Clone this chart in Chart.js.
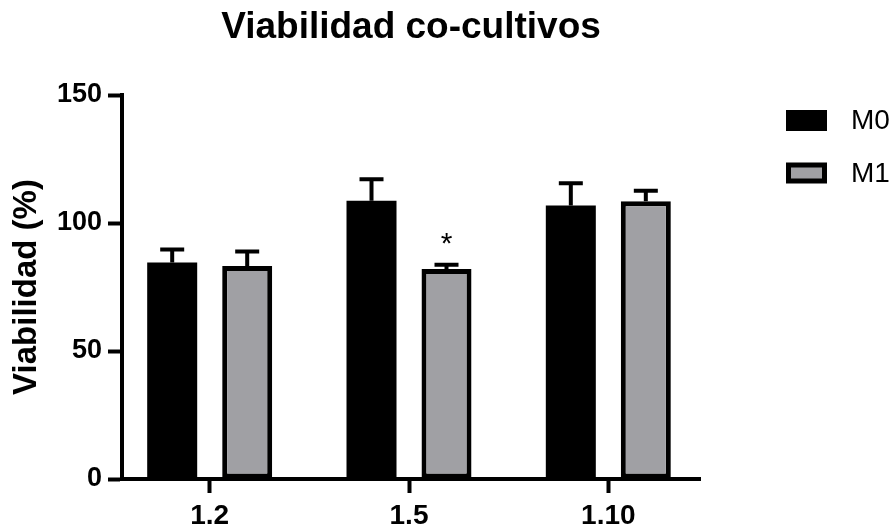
<!DOCTYPE html>
<html>
<head>
<meta charset="utf-8">
<title>Viabilidad co-cultivos</title>
<script src="https://cdn.jsdelivr.net/npm/chart.js@4.4.1/dist/chart.umd.min.js"></script>
<style>
    html, body { margin: 0; padding: 0; background: #ffffff; }
    #chart { display: block; }
</style>
</head>
<body>
<canvas id="chart" width="893" height="528"></canvas>
<script>
const categories = ['1.2', '1.5', '1.10'];
const m0Means = [84.6, 108.7, 106.8];
const m0Sem = [5.0, 8.4, 8.7];
const m1Means = [83.2, 82.0, 108.5];
const m1Sem = [5.7, 1.7, 4.1];
const m1Marks = ['', '*', ''];
const yTicks = [0, 50, 100, 150];

const FONT = "'Liberation Sans', Arial, sans-serif";
const GRAY = '#a0a0a4';

const toPoints = values => values.map((v, i) => ({ x: i, y: v }));

// error bars (upper only), significance marks and the legend on the right
const extrasPlugin = {
    id: 'extras',
    afterDatasetsDraw(chart) {
        const ctx = chart.ctx;
        const yScale = chart.scales.y;

        chart.data.datasets.forEach((ds, di) => {
            const meta = chart.getDatasetMeta(di);
            meta.data.forEach((bar, i) => {
                const top = yScale.getPixelForValue(ds.data[i].y + ds.sem[i]);
                ctx.save();
                ctx.strokeStyle = '#000';
                ctx.lineWidth = 4;
                ctx.beginPath();
                ctx.moveTo(bar.x, bar.y);
                ctx.lineTo(bar.x, top);
                ctx.moveTo(bar.x - 12, top);
                ctx.lineTo(bar.x + 12, top);
                ctx.stroke();
                if (ds.marks && ds.marks[i]) {
                    ctx.fillStyle = '#000';
                    ctx.font = '30px ' + FONT;
                    ctx.textAlign = 'center';
                    ctx.textBaseline = 'alphabetic';
                    ctx.fillText(ds.marks[i], bar.x, top - 12);
                }
                ctx.restore();
            });
        });

        // legend
        chart.data.datasets.forEach((ds, di) => {
            const x = 786, y = 110 + di * 52.5, w = 41, h = 21;
            const bw = ds.borderWidth || 0;
            ctx.save();
            ctx.fillStyle = ds.borderColor;
            ctx.fillRect(x, y, w, h);
            ctx.fillStyle = ds.backgroundColor;
            ctx.fillRect(x + bw, y + bw, w - 2 * bw, h - 2 * bw);
            ctx.fillStyle = '#000';
            ctx.font = '28px ' + FONT;
            ctx.textAlign = 'left';
            ctx.textBaseline = 'middle';
            ctx.fillText(ds.label, 851, y + h / 2 + 1);
            ctx.restore();
        });
    }
};

const ctx = document.getElementById('chart').getContext('2d');

new Chart(ctx, {
    type: 'bar',
    data: {
        datasets: [
            {
                label: 'M0',
                data: toPoints(m0Means),
                sem: m0Sem,
                backgroundColor: '#000000',
                borderColor: '#000000',
                borderWidth: 0
            },
            {
                label: 'M1',
                data: toPoints(m1Means),
                sem: m1Sem,
                marks: m1Marks,
                backgroundColor: GRAY,
                borderColor: '#000000',
                borderWidth: 5,
                borderSkipped: false
            }
        ]
    },
    options: {
        responsive: false,
        animation: false,
        devicePixelRatio: 1,
        categoryPercentage: 0.7526,
        barPercentage: 0.6667,
        layout: { padding: { left: 0, right: 193, top: 0, bottom: 0 } },
        plugins: {
            legend: { display: false },
            tooltip: { enabled: false },
            title: {
                display: true,
                fullSize: false,
                text: 'Viabilidad co-cultivos',
                color: '#000',
                font: { family: FONT, size: 37, weight: 'bold' },
                padding: { top: 6, bottom: 44.6 }
            }
        },
        scales: {
            x: {
                type: 'linear',
                min: -0.44,
                max: 2.46,
                offset: false,
                afterBuildTicks: scale => {
                    scale.ticks = categories.map((c, i) => ({ value: i }));
                },
                afterFit: scale => { scale.height = 49; },
                grid: {
                    offset: false,
                    drawOnChartArea: false,
                    drawTicks: true,
                    tickLength: 14,
                    tickWidth: 4,
                    tickColor: '#000'
                },
                border: { display: true, color: '#000', width: 4, z: 1 },
                ticks: {
                    color: '#000',
                    padding: 6,
                    font: { family: FONT, size: 28, weight: 'bold' },
                    callback: value => categories[value]
                }
            },
            y: {
                min: 0,
                max: 150,
                afterBuildTicks: scale => {
                    scale.ticks = yTicks.map(v => ({ value: v }));
                },
                afterFit: scale => { scale.width = 122; },
                grid: {
                    drawOnChartArea: false,
                    drawTicks: true,
                    tickLength: 14,
                    tickWidth: 4,
                    tickColor: '#000'
                },
                border: { display: true, color: '#000', width: 4, z: 1 },
                ticks: {
                    color: '#000',
                    padding: 6,
                    font: { family: FONT, size: 27, weight: 'bold' }
                },
                title: {
                    display: true,
                    text: 'Viabilidad (%)',
                    color: '#000',
                    font: { family: FONT, size: 33, weight: 'bold' },
                    padding: { top: 7, bottom: 0 }
                }
            }
        }
    },
    plugins: [extrasPlugin]
});
</script>
</body>
</html>
